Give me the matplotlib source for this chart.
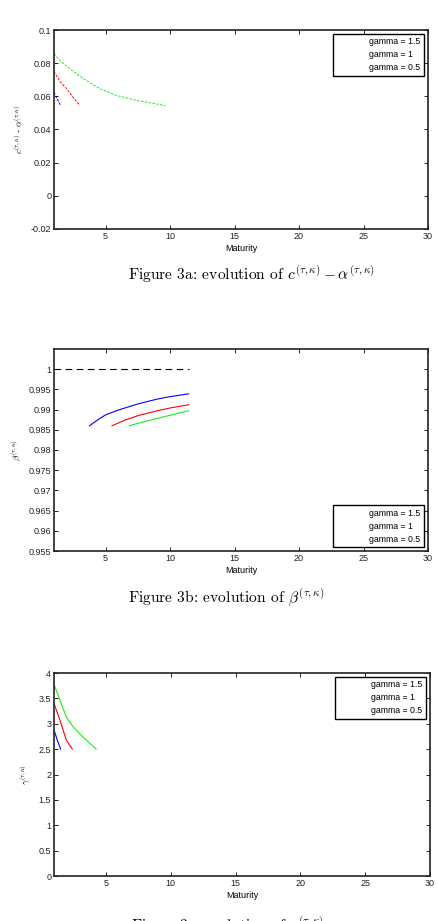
import matplotlib
matplotlib.use("Agg")
import matplotlib.pyplot as plt
from matplotlib.lines import Line2D
from matplotlib.ticker import FormatStrFormatter

plt.rcParams['font.family'] = ['Liberation Sans', 'DejaVu Sans']
plt.rcParams['mathtext.fontset'] = 'cm'
plt.rcParams['axes.unicode_minus'] = False

legend_labels = ['gamma = 1.5', 'gamma = 1', 'gamma = 0.5']
x_ticks = [5, 10, 15, 20, 25, 30]

# Panel a: c - alpha (dashed)
a_blue_x = [1.0, 1.25, 1.52]
a_blue_y = [0.0625, 0.0585, 0.0544]
a_red_x = [1.0, 1.47, 1.99, 2.5, 3.02]
a_red_y = [0.0750, 0.0689, 0.0645, 0.0592, 0.0544]
a_green_x = [1.0, 1.5, 2.24, 3.28, 4.57, 5.87, 7.43, 8.46, 9.62]
a_green_y = [0.0857, 0.0812, 0.0766, 0.0706, 0.0645, 0.0605, 0.0575, 0.0561, 0.0544]
a_yticks = [-0.02, 0, 0.02, 0.04, 0.06, 0.08, 0.1]

# Panel b: beta (solid)
b_ref_x = [1.0, 11.5]
b_ref_y = [1.0, 1.0]
b_blue_x = [3.75, 4.5, 5.0, 6.0, 7.5, 9.0, 10.0, 11.44]
b_blue_y = [0.9860, 0.9877, 0.9887, 0.9899, 0.9914, 0.9926, 0.9932, 0.9939]
b_red_x = [5.5, 6.5, 7.5, 9.0, 10.0, 11.44]
b_red_y = [0.9860, 0.9874, 0.9885, 0.9897, 0.9904, 0.9912]
b_green_x = [6.83, 7.5, 8.5, 10.0, 11.44]
b_green_y = [0.9860, 0.9866, 0.9874, 0.9886, 0.9897]
b_yticks = [0.955, 0.96, 0.965, 0.97, 0.975, 0.98, 0.985, 0.99, 0.995, 1.0]

# Panel c: gamma (solid)
c_blue_x = [1.0, 1.25, 1.51]
c_blue_y = [2.88, 2.68, 2.50]
c_red_x = [1.0, 1.46, 1.96, 2.42]
c_red_y = [3.40, 3.07, 2.67, 2.50]
c_green_x = [1.0, 1.46, 1.96, 2.47, 3.23, 4.24]
c_green_y = [3.78, 3.46, 3.13, 2.94, 2.74, 2.50]
c_yticks = [0, 0.5, 1, 1.5, 2, 2.5, 3, 3.5, 4]

W, H = 438, 921
fig = plt.figure(figsize=(W / 100, H / 100), dpi=100)

FS = 6.5
BLUE, RED, GREEN = (0, 0, 1), (1, 0, 0), (0.1, 0.92, 0.1)


def px_axes(left, top, right, bottom):
    return fig.add_axes([left / W, 1 - bottom / H, (right - left) / W, (bottom - top) / H])


def style(ax, yticks, ylim, yfmt):
    ax.set_xlim(1, 30)
    ax.set_ylim(*ylim)
    ax.set_xticks(x_ticks)
    ax.set_yticks(yticks)
    ax.yaxis.set_major_formatter(FormatStrFormatter(yfmt))
    ax.tick_params(direction='in', top=True, right=True, length=3, width=0.7,
                   labelsize=FS, pad=2, colors='#222222')
    for s in ax.spines.values():
        s.set_linewidth(1.2)
        s.set_color('#222222')
    ax.set_xlabel('Maturity', fontsize=FS, labelpad=2)


def legend(ax, loc):
    handles = [Line2D([], [], color='none') for _ in legend_labels]
    lg = ax.legend(handles, legend_labels, loc=loc, fontsize=6.3, fancybox=False,
                   framealpha=1, edgecolor='black', handlelength=3.0,
                   handletextpad=0.8, borderaxespad=0.45, borderpad=0.4,
                   labelspacing=0.45)
    lg.get_frame().set_linewidth(1.0)


# Panel a
ax1 = px_axes(54, 30, 428, 229)
ax1.plot(a_blue_x, a_blue_y, color=BLUE, lw=0.7, ls=(0, (2.5, 1.5)))
ax1.plot(a_red_x, a_red_y, color=RED, lw=0.7, ls=(0, (2.5, 1.5)))
ax1.plot(a_green_x, a_green_y, color=GREEN, lw=0.7, ls=(0, (2.5, 1.5)))
style(ax1, a_yticks, (-0.02, 0.1), '%g')
ax1.set_ylabel(r'$c^{(\tau,\kappa)}$ - $\alpha^{(\tau,\kappa)}$', fontsize=FS, labelpad=4)
legend(ax1, 'upper right')

# Panel b
ax2 = px_axes(54, 349, 428, 551)
ax2.plot(b_ref_x, b_ref_y, color='black', lw=0.8, ls=(0, (6, 4)))
ax2.plot(b_blue_x, b_blue_y, color=BLUE, lw=0.8)
ax2.plot(b_red_x, b_red_y, color=RED, lw=0.8)
ax2.plot(b_green_x, b_green_y, color=GREEN, lw=0.8)
style(ax2, b_yticks, (0.955, 1.005), '%g')
ax2.set_ylabel(r'$\beta^{(\tau,\kappa)}$', fontsize=FS, labelpad=4)
legend(ax2, 'lower right')

# Panel c
ax3 = px_axes(54, 673, 430, 876)
ax3.plot(c_blue_x, c_blue_y, color=BLUE, lw=0.8)
ax3.plot(c_red_x, c_red_y, color=RED, lw=0.8)
ax3.plot(c_green_x, c_green_y, color=GREEN, lw=0.8)
style(ax3, c_yticks, (0, 4), '%g')
ax3.set_ylabel(r'$\gamma^{(\tau,\kappa)}$', fontsize=FS, labelpad=4)
legend(ax3, 'upper right')

cap_kw = dict(fontsize=11.2, family='cmr10', ha='left', va='center')
fig.text(128 / W, 1 - 274 / H, r'Figure 3a: evolution of $c^{(\tau,\kappa)} - \alpha^{(\tau,\kappa)}$', **cap_kw)
fig.text(128 / W, 1 - 597 / H, r'Figure 3b: evolution of $\beta^{(\tau,\kappa)}$', **cap_kw)
fig.text(131 / W, 1 - 925 / H, r'Figure 3c: evolution of $\gamma^{(\tau,\kappa)}$', **cap_kw)

fig.savefig('out.png', dpi=100)
